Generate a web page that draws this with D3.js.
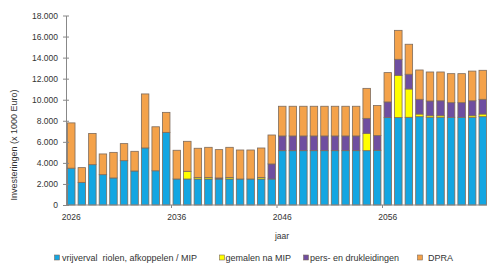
<!DOCTYPE html>
<html><head><meta charset="utf-8">
<script src="https://cdn.jsdelivr.net/npm/d3@7"></script>
<style>
html,body{margin:0;padding:0;background:#fff;}
svg{display:block;font-family:"Liberation Sans",Arial,sans-serif;}
</style></head>
<body>
<svg id="chart" width="487" height="264"></svg>
<script>
const years = d3.range(2026, 2066);
const seriesNames = ["vrijverval  riolen, afkoppelen / MIP", "gemalen na MIP", "pers- en drukleidingen", "DPRA"];
const seriesColors = ["#13a6e2", "#ffff00", "#6f4ea0", "#f4a24a"];
const vrijverval = [3500,2150,3830,2880,2570,4210,3230,5420,3250,6900,
  2470,2470,2470,2470,2470,2470,2470,2470,2470,2470,
  5160,5160,5160,5160,5160,5160,5160,5160,5160,5200,
  8300,8300,8330,8390,8330,8330,8330,8330,8330,8390];
const gemalen = [0,0,0,0,0,0,0,0,0,0,
  0,730,150,150,0,150,0,0,150,0,
  0,0,0,0,0,0,0,0,1650,0,
  0,4020,2690,250,150,150,0,0,150,250];
const pers = [0,0,0,0,0,0,0,0,0,0,
  0,0,0,0,100,0,0,0,0,1430,
  1400,1400,1400,1400,1400,1400,1400,1400,1420,1400,
  1490,1520,1400,1400,1400,1420,1390,1390,1420,1400];
const dpra = [4300,1400,2970,1970,2430,1620,1870,5130,4180,1900,
  2730,2850,2770,2860,2690,2860,2755,2755,2795,2750,
  2820,2820,2820,2820,2820,2820,2820,2820,2850,2850,
  2785,2750,2850,2785,2755,2735,2755,2755,2820,2755];
const yTicks = [0,2000,4000,6000,8000,10000,12000,14000,16000,18000];
const xLabelYears = [2026, 2036, 2046, 2056];
const yTitle = "Investeringen (x 1000 Euro)";
const xTitle = "jaar";

const svg = d3.select("#chart");
const pLeft = 66, pRight = 488, pTop = 15.5, pBottom = 205;
const x = d3.scaleBand().domain(years).range([pLeft, pRight]).paddingInner(0.29).paddingOuter(0.145);
const y = d3.scaleLinear().domain([0, 18000]).range([pBottom, pTop]);
const fmt = v => d3.format(",")(v).replace(/,/g, ".");

const table = years.map((yr, i) => ({year: yr, s0: vrijverval[i], s1: gemalen[i], s2: pers[i], s3: dpra[i]}));
const stack = d3.stack().keys(["s0","s1","s2","s3"])(table);

svg.append("g").selectAll("g").data(stack).join("g")
  .attr("fill", (d, i) => seriesColors[i])
  .selectAll("rect").data(d => d.filter(p => p[1] - p[0] > 0)).join("rect")
  .attr("x", d => x(d.data.year))
  .attr("width", x.bandwidth())
  .attr("y", d => y(d[1]))
  .attr("height", d => y(d[0]) - y(d[1]))
  .attr("stroke", "#7d6b5c").attr("stroke-width", 0.8);

// Y axis
const yAxis = svg.append("g").attr("transform", `translate(${pLeft},0)`)
  .call(d3.axisLeft(y).tickValues(yTicks).tickFormat(fmt).tickSizeInner(3).tickSizeOuter(0));
yAxis.select(".domain").attr("stroke", "#888");
yAxis.selectAll(".tick line").attr("stroke", "#888").attr("x2", 3).attr("x1", -3);
yAxis.selectAll(".tick text").attr("x", -8).attr("fill", "#333").style("font-size", "8.5px").style("font-family", "Liberation Sans, Arial, sans-serif");

// X axis
const xg = svg.append("g").attr("transform", `translate(0,${pBottom})`);
xg.append("line").attr("x1", pLeft).attr("x2", 487).attr("stroke", "#888");
const step = x.step();
xLabelYears.forEach(yr => {
  const cx = x(yr) + x.bandwidth() / 2;
  const tx = x(yr) - (step - x.bandwidth()) / 2;
  if (yr !== 2026) xg.append("line").attr("x1", tx).attr("x2", tx).attr("y1", 0).attr("y2", 3).attr("stroke", "#888");
  xg.append("text").attr("x", cx).attr("y", 15).attr("text-anchor", "middle")
    .attr("fill", "#333").style("font-size", "8.5px").text(yr);
});

svg.append("text").attr("x", 282).attr("y", 239).attr("text-anchor", "middle")
  .attr("fill", "#333").style("font-size", "8.5px").text(xTitle);

svg.append("text").attr("transform", "translate(17,145) rotate(-90)").attr("text-anchor", "middle")
  .attr("fill", "#333").style("font-size", "9px").text(yTitle);

// Legend
const legX = [54.5, 219.5, 303.5, 417.5];
const legT = [7.5, 6, 6.5, 10.5];
const leg = svg.append("g").selectAll("g").data(seriesNames).join("g")
  .attr("transform", (d, i) => `translate(${legX[i]},257.5)`);
leg.append("rect").attr("x", 0).attr("y", -2.5).attr("width", 5).attr("height", 5)
  .attr("fill", (d, i) => seriesColors[i]).attr("stroke", "#7d6b5c").attr("stroke-width", 0.6);
leg.append("text").attr("x", (d, i) => legT[i]).attr("y", 3).attr("fill", "#333").style("font-size", "9px")
  .style("white-space", "pre")
  .text(d => d);
</script>
</body></html>
